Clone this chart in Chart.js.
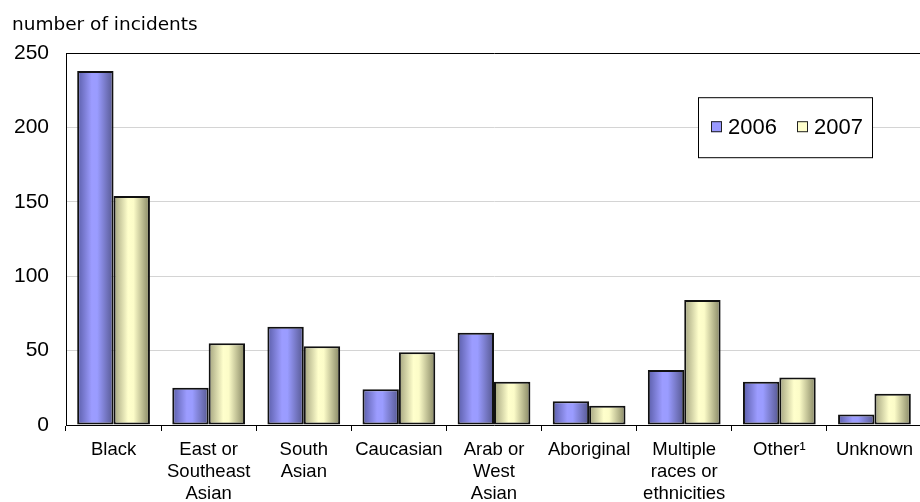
<!DOCTYPE html>
<html>
<head>
<meta charset="utf-8">
<script src="https://cdn.jsdelivr.net/npm/chart.js@4.4.0/dist/chart.umd.min.js"></script>
<style>
  html, body { margin: 0; padding: 0; background: #fff; overflow: hidden; }
  #wrap { width: 920px; height: 502px; overflow: hidden; }
</style>
</head>
<body>
<div id="wrap"><canvas id="canvasChart" width="922" height="502"></canvas></div>
<script>
var categories = [
  'Black',
  ['East or', 'Southeast', 'Asian'],
  ['South', 'Asian'],
  'Caucasian',
  ['Arab or', 'West', 'Asian'],
  'Aboriginal',
  ['Multiple', 'races or', 'ethnicities'],
  'Other\u00b9',
  'Unknown'
];
var seriesNames = ['2006', '2007'];
var values2006 = [238, 25, 66, 24, 62, 16, 37, 29, 7];
var values2007 = [154, 55, 53, 49, 29, 13, 84, 32, 21];
var yTicks = [0, 50, 100, 150, 200, 250];

var groupPct = 0.765;

// light centre, dark edges, like the old office gradient bars
var palettes = [
  { solid: '#9999ff', stops: ['#5a5da8', '#9c9cff', '#9a9cff', '#55578f'] },
  { solid: '#ffffcc', stops: ['#a3a37e', '#ffffcc', '#fcfcc8', '#858562'] }
];

function barFill(ctx) {
  var pal = palettes[ctx.datasetIndex];
  if (ctx.type !== 'data') return pal.solid;
  var chart = ctx.chart;
  var x = chart.scales.x;
  if (!x || !chart.chartArea) return pal.solid;
  var center = x.getPixelForValue(ctx.dataIndex);
  var bw = (x.width / categories.length) * groupPct / 2;
  var x0 = ctx.datasetIndex === 0 ? center - bw : center;
  var g = chart.ctx.createLinearGradient(x0, 0, x0 + bw, 0);
  g.addColorStop(0, pal.stops[0]);
  g.addColorStop(0.4, pal.stops[1]);
  g.addColorStop(0.55, pal.stops[2]);
  g.addColorStop(1, pal.stops[3]);
  return g;
}

// boxed legend sitting inside the plot, top right
const boxLegend = {
  id: 'boxLegend',
  afterDraw(chart) {
    var c = chart.ctx;
    var a = chart.chartArea;
    var left = a.right - 224, top = a.top + 44, w = 174, h = 60;
    c.save();
    c.fillStyle = '#fff';
    c.fillRect(left, top, w, h);
    c.strokeStyle = '#000';
    c.lineWidth = 1;
    c.strokeRect(left + 0.5, top + 0.5, w, h);
    c.font = '22px "Liberation Sans", Arial, sans-serif';
    c.textBaseline = 'alphabetic';
    var xs = [left + 13, left + 99];
    chart.data.datasets.forEach(function (ds, i) {
      var sx = xs[i], sy = top + 24;
      c.fillStyle = palettes[i].solid;
      c.fillRect(sx, sy, 11, 11);
      c.strokeStyle = '#222';
      c.lineWidth = 1;
      c.strokeRect(sx + 0.5, sy + 0.5, 10, 10);
      c.fillStyle = '#000';
      c.fillText(ds.label, sx + 17, top + 37);
    });
    c.restore();
  }
};

new Chart(document.getElementById('canvasChart'), {
  type: 'bar',
  data: {
    labels: categories,
    datasets: [
      { label: seriesNames[0], data: values2006, backgroundColor: barFill, borderColor: '#111', borderWidth: 2, borderSkipped: false },
      { label: seriesNames[1], data: values2007, backgroundColor: barFill, borderColor: '#111', borderWidth: 2, borderSkipped: false }
    ]
  },
  options: {
    responsive: false,
    animation: false,
    events: [],
    layout: { padding: { left: 12, right: 0, top: 0, bottom: 0 } },
    datasets: { bar: { categoryPercentage: groupPct, barPercentage: 1 } },
    plugins: {
      legend: { display: false },
      tooltip: { enabled: false },
      title: {
        display: true,
        text: 'number of incidents',
        align: 'start',
        color: '#000',
        font: { family: '"DejaVu Sans", sans-serif', size: 18.5, weight: 'normal' },
        padding: { top: 14, bottom: 17 }
      }
    },
    scales: {
      x: {
        afterFit: function (s) { s.height = 77; },
        border: { color: '#000', width: 1 },
        grid: { offset: true, drawOnChartArea: false, drawTicks: true, tickLength: 6, color: '#000' },
        ticks: {
          color: '#000',
          padding: 8,
          maxRotation: 0,
          autoSkip: false,
          font: { family: '"Liberation Sans", Arial, sans-serif', size: 18.5, lineHeight: 1.18 }
        }
      },
      y: {
        min: yTicks[0],
        max: yTicks[yTicks.length - 1],
        afterFit: function (s) { s.width = 54; },
        afterBuildTicks: function (s) { s.ticks = yTicks.map(function (v) { return { value: v }; }); },
        border: { color: '#000', width: 1 },
        grid: {
          drawTicks: false,
          color: function (ctx) { return ctx.tick && ctx.tick.value === yTicks[yTicks.length - 1] ? '#000' : '#d4d4d4'; },
          lineWidth: 1
        },
        ticks: {
          color: '#000',
          padding: 17,
          font: { family: '"Liberation Sans", Arial, sans-serif', size: 21 }
        }
      }
    }
  },
  plugins: [boxLegend]
});
</script>
</body>
</html>
